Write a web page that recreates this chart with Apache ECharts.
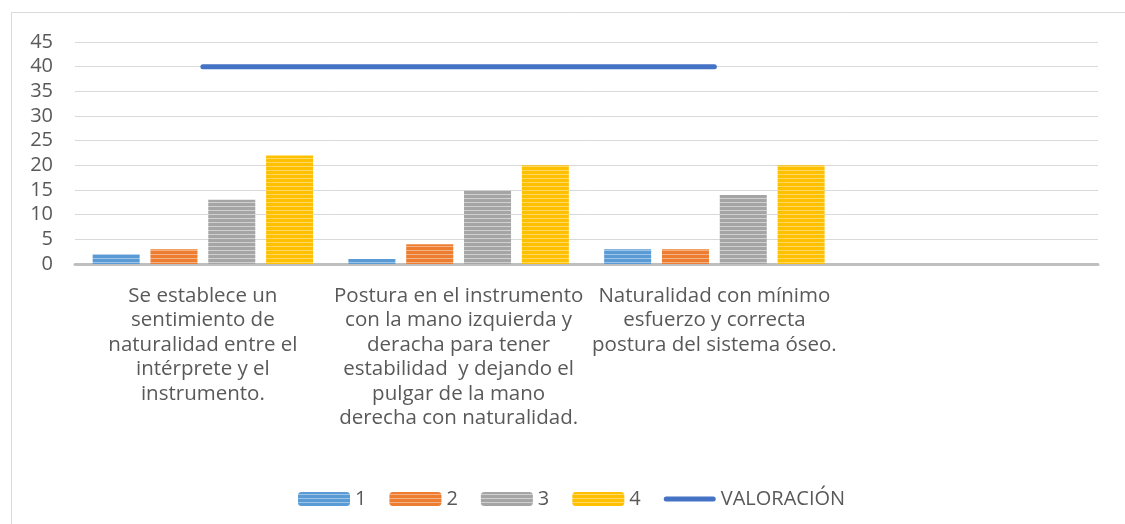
<!DOCTYPE html>
<html>
<head>
<meta charset="utf-8">
<script src="https://cdn.jsdelivr.net/npm/echarts@6/dist/echarts.min.js"></script>
<style>
html,body{margin:0;padding:0;background:#fff;}
#c{width:1125px;height:524px;}
</style>
</head>
<body>
<div id="c"></div>
<script>
const categories = [
  "Se establece un\nsentimiento de\nnaturalidad entre el\nintérprete y el\ninstrumento.",
  "Postura en el instrumento\ncon la mano izquierda y\nderacha para tener\nestabilidad  y dejando el\npulgar de la mano\nderecha con naturalidad.",
  "Naturalidad con mínimo\nesfuerzo y correcta\npostura del sistema óseo.",
  ""
];
const seriesNames = ["1", "2", "3", "4"];
const s1 = [2, 1, 3, null];
const s2 = [3, 4, 3, null];
const s3 = [13, 15, 14, null];
const s4 = [22, 20, 20, null];
const valoracion = [40, 40, 40, null];
const yTicks = [0, 5, 10, 15, 20, 25, 30, 35, 40, 45];

function stripe(base, light) {
  const cv = document.createElement('canvas');
  cv.width = 4; cv.height = 4;
  const ctx = cv.getContext('2d');
  ctx.fillStyle = base; ctx.fillRect(0, 0, 4, 4);
  ctx.fillStyle = light; ctx.fillRect(0, 2, 4, 1);
  return { image: cv, repeat: 'repeat' };
}
const fills = [
  stripe('#5B9BD5', '#9DC3E6'),
  stripe('#ED7D31', '#F4B183'),
  stripe('#A5A5A5', '#D0D0D0'),
  stripe('#FFC000', '#FFD966')
];
const barData = [s1, s2, s3, s4];
const font = '"Open Sans", "Noto Sans", sans-serif';

const chart = echarts.init(document.getElementById('c'));
const series = barData.map((d, i) => ({
  name: seriesNames[i],
  type: 'bar',
  data: d,
  barWidth: 47,
  barGap: '23%',
  itemStyle: { color: fills[i] }
}));
series.push({
  name: 'VALORACIÓN',
  type: 'line',
  data: valoracion,
  symbol: 'none',
  lineStyle: { color: '#4472C4', width: 5, cap: 'round' },
  itemStyle: { color: '#4472C4' }
});

chart.setOption({
  animation: false,
  backgroundColor: '#fff',
  textStyle: { fontFamily: font },
  graphic: [
    { type: 'line', shape: { x1: 11.5, y1: 12.5, x2: 1125, y2: 12.5 }, style: { stroke: '#d9d9d9', lineWidth: 1 } },
    { type: 'line', shape: { x1: 11.5, y1: 12.5, x2: 11.5, y2: 524 }, style: { stroke: '#d9d9d9', lineWidth: 1 } }
  ],
  grid: { left: 75, right: 27, top: 42, bottom: 260, containLabel: false },
  legend: {
    top: 484,
    left: 293,
    itemWidth: 52,
    itemHeight: 14,
    itemGap: 23,
    textStyle: { color: '#595959', fontSize: 20, fontFamily: font },
    data: [
      { name: '1' }, { name: '2' }, { name: '3' }, { name: '4' },
      { name: 'VALORACIÓN', icon: 'path://M2.5,0 L49.5,0 A2.5,2.5 0 0 1 49.5,5 L2.5,5 A2.5,2.5 0 0 1 2.5,0 Z' }
    ]
  },
  xAxis: {
    type: 'category',
    data: categories,
    axisLine: { show: true, lineStyle: { color: '#bfbfbf', width: 3 } },
    axisTick: { show: false },
    axisLabel: {
      interval: 0,
      color: '#595959',
      fontSize: 20.5,
      lineHeight: 24.4,
      margin: 20,
      fontFamily: font,
      align: 'center'
    }
  },
  yAxis: {
    type: 'value',
    min: 0,
    max: 45,
    interval: 5,
    axisLine: { show: false },
    axisTick: { show: false },
    splitLine: { lineStyle: { color: '#d9d9d9', width: 1 } },
    axisLabel: {
      color: '#595959',
      fontSize: 20,
      margin: 22,
      fontFamily: font,
      formatter: v => yTicks.includes(v) ? String(v) : ''
    }
  },
  series: series
});
</script>
</body>
</html>
